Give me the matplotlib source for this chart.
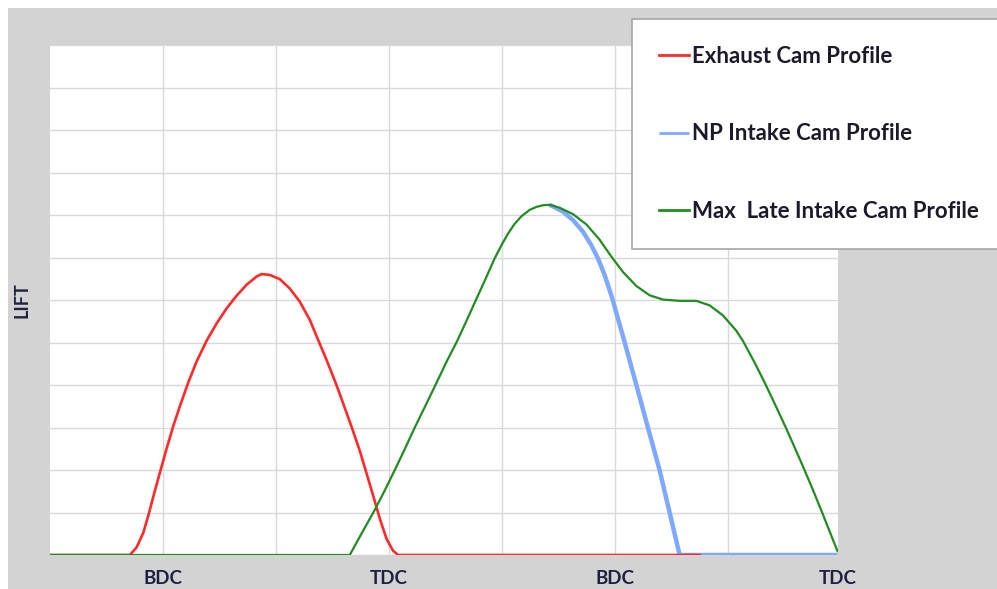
import matplotlib
matplotlib.use("Agg")
import matplotlib.pyplot as plt
from matplotlib.patches import Rectangle

# crank angle (deg) and lift (grid units)
exhaust_deg = [0, 63.7, 69.0, 74.3, 78.3, 82.3, 87.6, 92.9, 98.2, 103.5, 110.2, 116.8,
               124.8, 132.8, 140.7, 148.7, 156.7, 164.6, 168.6, 175.2, 183.2, 191.1,
               199.1, 207.1, 213.7, 220.4, 228.3, 233.6, 240.3, 246.9, 252.2, 257.5,
               262.8, 268.2, 273.4, 277.4, 517.7]
exhaust_lift = [0, 0, 0.18, 0.52, 0.92, 1.37, 1.94, 2.50, 3.03, 3.50, 4.06, 4.55,
                5.04, 5.45, 5.80, 6.10, 6.36, 6.55, 6.61, 6.59, 6.49, 6.27,
                5.96, 5.53, 5.06, 4.59, 4.0, 3.57, 3.02, 2.45, 1.93, 1.40,
                0.86, 0.38, 0.10, 0, 0]

np_intake_deg = [398.2, 408.8, 416.8, 424.7, 431.4, 436.7, 442.0, 448.0, 458.0, 467.3,
                 476.5, 485.8, 493.8, 501.8, 627.6]
np_intake_lift = [8.24, 8.08, 7.88, 7.61, 7.29, 6.98, 6.59, 6.05, 5.0, 4.0,
                  3.0, 2.0, 1.0, 0, 0]

late_intake_deg = [0, 238.9, 248.2, 258.8, 266.8, 274.8, 282.7, 290.7, 299.5, 308.0,
                   315.9, 323.9, 331.3, 338.5, 346.4, 354.4, 360.0, 365.0, 370.0, 375.7,
                   382.3, 387.6, 392.9, 398.2, 406.2, 416.8, 427.4, 438.0, 447.4, 456.6,
                   467.3, 477.9, 488.5, 501.8, 515.1, 525.6, 536.2, 546.9, 552.2, 561.5,
                   569.5, 577.4, 586.7, 593.3, 600.0, 607.9, 615.9, 622.6, 627.6]
late_intake_lift = [0, 0, 0.5, 1.06, 1.52, 2.0, 2.49, 3.0, 3.53, 4.05,
                    4.54, 5.0, 5.47, 5.94, 6.45, 6.98, 7.3, 7.56, 7.78, 7.97,
                    8.12, 8.19, 8.23, 8.24, 8.17, 8.02, 7.78, 7.42, 7.02, 6.66,
                    6.33, 6.11, 6.01, 5.98, 5.98, 5.875, 5.64, 5.28, 5.04, 4.53,
                    4.06, 3.57, 2.98, 2.54, 2.09, 1.54, 0.96, 0.46, 0.09]

tick_pos = [90, 270, 450, 628]
tick_labels = ["BDC", "TDC", "BDC", "TDC"]
grid_pos = [90, 180, 270, 360, 450, 540]

W, H = 997, 589
fig = plt.figure(figsize=(W / 100, H / 100), dpi=100, facecolor="white")

# grey chart background
fig.patches.append(Rectangle((8 / W, 0), 1 - 8 / W, 1 - 8 / H, transform=fig.transFigure,
                             facecolor="#D3D3D3", edgecolor="none", zorder=-10))

ax = fig.add_axes([50 / W, 1 - 555 / H, (838 - 50) / W, (555 - 45) / H])
ax.set_zorder(1)
ax.set_facecolor("white")

ax.plot(np_intake_deg, np_intake_lift, color="#7FA8FF", lw=3.2, zorder=2,
        label="NP Intake Cam Profile", solid_capstyle="butt")
ax.plot(exhaust_deg, exhaust_lift, color="#FF2A2A", lw=1.9, zorder=3,
        label="Exhaust Cam Profile")
ax.plot(late_intake_deg, late_intake_lift, color="#228B22", lw=1.6, zorder=4,
        label="Max  Late Intake Cam Profile")

ax.set_xlim(0, 628)
ax.set_ylim(0, 12)
ax.set_yticks(range(0, 13))
ax.set_yticklabels([])
ax.tick_params(axis="y", length=3, color="#D9D9D9")
ax.xaxis.remove_overlapping_locs = False
ax.set_xticks(tick_pos)
ax.set_xticklabels(tick_labels, fontsize=13.5, fontweight="bold", color="#1F2040",
                   family=["Lato", "DejaVu Sans"])
ax.set_xticks(grid_pos, minor=True)
ax.tick_params(axis="x", which="major", length=0, pad=11)
ax.tick_params(axis="x", which="minor", length=3, color="#D9D9D9")
ax.grid(True, axis="y", color="#D9D9D9", lw=1)
ax.grid(True, axis="x", which="minor", color="#D9D9D9", lw=1)
ax.set_axisbelow(True)
for s in ax.spines.values():
    s.set_visible(False)

fig.text(22 / W, 1 - 300 / H, "LIFT", rotation=90, ha="center", va="center",
         fontsize=13, fontweight="bold", color="#1F2040", family=["Lato", "DejaVu Sans"])

handles, labels = ax.get_legend_handles_labels()
order = [1, 0, 2]
leg = fig.legend([handles[i] for i in order], [labels[i] for i in order],
                 loc="upper left", bbox_to_anchor=(632 / W, 1 - 19 / H, (1002 - 632) / W, 0),
                 mode="expand", frameon=True, fancybox=False, framealpha=1,
                 edgecolor="#A6A6A6", borderpad=1.2, labelspacing=2.55, handlelength=1.35,
                 handletextpad=0.15, borderaxespad=0,
                 prop={"family": ["Lato", "DejaVu Sans"], "weight": "bold", "size": 16})
leg.set_zorder(5)
leg.get_frame().set_linewidth(1.2)
for line in leg.get_lines():
    line.set_linewidth(2)
for t in leg.get_texts():
    t.set_color("#1A1A2A")

fig.savefig("out.png", dpi=100, facecolor="white")
